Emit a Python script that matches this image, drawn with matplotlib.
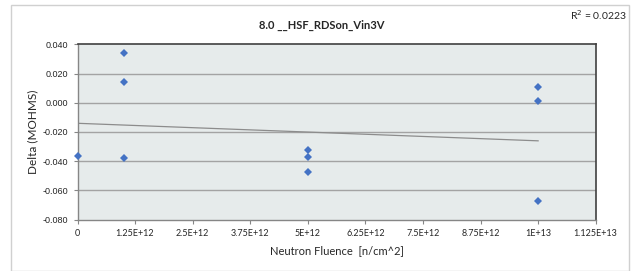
import numpy as np
import matplotlib
matplotlib.use("Agg")
import matplotlib.pyplot as plt
from matplotlib.patches import Rectangle

# ---- data ----
fluence = [0, 1e12, 1e12, 1e12, 5e12, 5e12, 5e12, 1e13, 1e13, 1e13]
delta = [-0.0366, 0.0343, 0.0145, -0.0379, -0.0324, -0.0374, -0.0478, 0.0108, 0.0012, -0.0674]
x_ticks = [0, 1.25e12, 2.5e12, 3.75e12, 5e12, 6.25e12, 7.5e12, 8.75e12, 1e13, 1.125e13]
x_tick_labels = ["0", "1.25E+12", "2.5E+12", "3.75E+12", "5E+12", "6.25E+12",
                 "7.5E+12", "8.75E+12", "1E+13", "1.125E+13"]
y_ticks = [-0.08, -0.06, -0.04, -0.02, 0.0, 0.02, 0.04]
y_tick_labels = ["-0.080", "-0.060", "-0.040", "-0.020", "0.000", "0.020", "0.040"]
title = "8.0 __HSF_RDSon_Vin3V"
r2_text = "R$^2$ = 0.0223"

plt.rcParams['font.family'] = ['Lato', 'DejaVu Sans']

W, H = 632, 271
fig = plt.figure(figsize=(W / 100, H / 100), dpi=100)

# chart frame
fig.patches.append(Rectangle((11 / W, 0.0), (629 - 11) / W, (266) / H,
                             transform=fig.transFigure, fill=False,
                             edgecolor='#d0d0d0', linewidth=1.0))

ax = fig.add_axes([77.5 / W, 1 - 219.5 / H, (595.7 - 77.5) / W, (219.5 - 44.3) / H])
ax.set_facecolor('#e6ebeb')

for y in y_ticks[1:-1]:
    ax.axhline(y, color='#a3a3a3', linewidth=1.0, zorder=1)

# trendline
coef = np.polyfit(fluence, delta, 1)
xt = np.array([min(fluence), max(fluence)])
ax.plot(xt, np.polyval(coef, xt), color='#8c8c8c', linewidth=0.9, zorder=2)

ax.plot(fluence, delta, linestyle='none', marker='D', markersize=4.0,
        color='#4472c4', markeredgewidth=0, zorder=3, clip_on=False)

ax.set_xlim(0, 1.125e13)
ax.set_ylim(-0.08, 0.04)
ax.set_xticks(x_ticks)
ax.set_xticklabels(x_tick_labels, fontsize=6.5, color='#262626')
ax.set_yticks(y_ticks)
ax.set_yticklabels(y_tick_labels, fontsize=6.5, color='#262626',
                   family=['Liberation Sans', 'DejaVu Sans'])
ax.tick_params(axis='both', direction='out', length=3, width=0.8, color='#868686', pad=4)

for s in ['left', 'bottom']:
    ax.spines[s].set_color('#868686')
    ax.spines[s].set_linewidth(1.0)
for s in ['top', 'right']:
    ax.spines[s].set_color('#404040')
    ax.spines[s].set_linewidth(1.2)

ax.set_xlabel("Neutron Fluence  [n/cm^2]", fontsize=8, color='#262626', labelpad=5)
ax.set_ylabel("Delta (MOHMS)", fontsize=8.5, color='#262626', labelpad=3)

fig.text(322 / W, 1 - 25.7 / H, title, ha='center', va='center',
         fontsize=8, fontweight='bold', color='#262626')
fig.text(627 / W, 1 - 15 / H, r2_text, ha='right', va='center',
         fontsize=7.5, color='#262626')

fig.savefig("out.png", dpi=100)
